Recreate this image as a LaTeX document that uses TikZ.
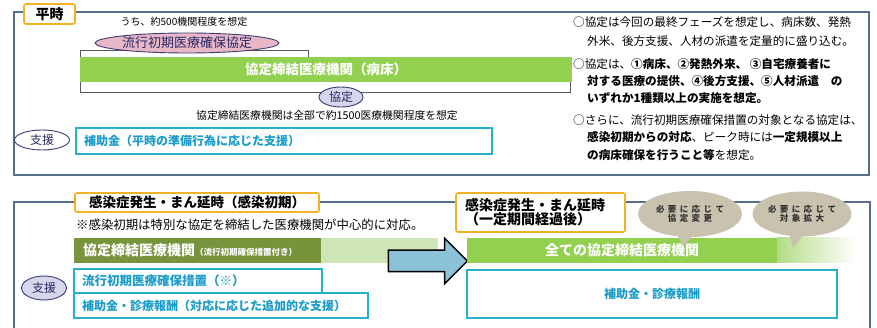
\documentclass[tikz,border=0pt]{standalone}
\usepackage{fontspec}
\setmainfont{Noto Sans CJK JP}
\newfontfamily\spacedjp[LetterSpace=40]{Noto Sans CJK JP}
\usepackage{tikz}
\usetikzlibrary{shapes,arrows,positioning}
\usetikzlibrary{shapes.arrows,shapes.callouts}

\definecolor{framegray}{RGB}{84,110,140}
\definecolor{tagorange}{RGB}{242,178,36}
\definecolor{barlime}{RGB}{146,208,80}
\definecolor{barolive}{RGB}{119,147,60}
\definecolor{barpale}{RGB}{206,230,182}
\definecolor{barfade}{RGB}{180,220,136}
\definecolor{aidcyan}{RGB}{38,176,204}
\definecolor{aidtext}{RGB}{28,156,200}
\definecolor{pactpink}{RGB}{232,184,200}
\definecolor{pactedge}{RGB}{60,60,120}
\definecolor{pactink}{RGB}{40,40,100}
\definecolor{aidlav}{RGB}{214,214,236}
\definecolor{bubbletan}{RGB}{201,194,174}
\definecolor{arrowblue}{RGB}{140,194,216}

\newcommand{\fsz}[1]{\fontsize{#1}{#1}\selectfont}

\tikzset{
  phasetag/.style={shape=rectangle,rounded corners=2pt,draw=tagorange,line width=1.6pt,fill=white,inner sep=0pt},
  aidbox/.style={shape=rectangle,draw=aidcyan,line width=1.6pt,fill=white,inner xsep=8pt,inner ysep=0pt,align=left,text=aidtext,font=\bfseries\fsz{12}},
  tagoval/.style={shape=ellipse,draw=pactedge,line width=0.9pt,inner sep=0pt,text=pactink},
  bar/.style={shape=rectangle,inner sep=0pt,minimum height=25,text=white,font=\bfseries\fsz{14}},
  talkbubble/.style={ellipse callout,fill=bubbletan,inner sep=0pt,align=center,text=black!80,font=\spacedjp\bfseries\fsz{8.5}},
  sidenote/.style={anchor=west,inner sep=0pt,font=\fsz{11.6}}
}

\begin{document}
\begin{tikzpicture}[x=1pt,y=-1pt]
\useasboundingbox (0,0) rectangle (877,328);

% Normal times frame
\draw [framegray,line width=1.2pt] (14,12) rectangle (869,175);
\node [phasetag,minimum width=51,minimum height=20,font=\bfseries\fsz{14}] at (49.5,14) (heiji) {平時};
\node [inner sep=0pt,font=\fsz{10}] at (184,22) (note500) {うち、約500機関程度を想定};
\draw [black!65,line width=0.9pt] (308,57) -- (308,50) -- (80,50) -- (80,92) -- (570,92) -- (570,82);
\node [tagoval,fill=pactpink,minimum width=150,minimum height=20,font=\fsz{13}] at (187,43) (earlypact) {流行初期医療確保協定};
\node [bar,fill=barlime,minimum width=492,font=\bfseries\fsz{13.5}] at (326,69.5) (bedbar) {協定締結医療機関（病床）};
\node [tagoval,fill=aidlav,minimum width=44,minimum height=20,font=\fsz{12}] at (341,97) (pact) {協定};
\node [inner sep=0pt,font=\fsz{10.8}] at (327,115) (note1500) {協定締結医療機関は全部で約1500医療機関程度を想定};
\node [tagoval,fill=white,minimum width=55,minimum height=20,font=\fsz{12}] at (42,140) (aidtag) {支援};
\node [aidbox,text width=400,minimum height=26] at (284,141) (subsidy) {補助金（平時の準備行為に応じた支援）};

% Notes on the right
\node [sidenote] at (573,22) (lineA) {○協定は今回の最終フェーズを想定し、病床数、発熱};
\node [sidenote] at (587,41) (lineB) {外米、後方支援、人材の派遣を定量的に盛り込む。};
\node [sidenote] at (573,64) (lineC) {○協定は、\textbf{①病床、②発熱外来、 ③自宅療養者に}};
\node [sidenote,font=\bfseries\fsz{11.6}] at (587,81) (lineD) {対する医療の提供、④後方支援、⑤人材派遣　の};
\node [sidenote,font=\bfseries\fsz{11.6}] at (587,98) (lineE) {いずれか1種類以上の実施を想定。};
\node [sidenote] at (573,120) (lineF) {○さらに、流行初期医療確保措置の対象となる協定は、};
\node [sidenote] at (587,137) (lineG) {\textbf{感染初期からの対応}、ピーク時には\textbf{一定規模以上}};
\node [sidenote] at (587,155) (lineH) {\textbf{の病床確保を行うこと等}を想定。};

% Outbreak frame
\draw [framegray,line width=1.2pt] (14,340) -- (14,202) -- (870,202) -- (870,340);
\node [phasetag,minimum width=244,minimum height=19,font=\bfseries\fsz{13.5}] at (197,202.5) (early) {感染症発生・まん延時（感染初期）};
\node [anchor=west,inner sep=0pt,font=\fsz{12.4}] at (76,225) (notecore) {※感染初期は特別な協定を締結した医療機関が中心的に対応。};
\node [bar,fill=barpale,minimum width=117] at (379.5,250.5) (palebar) {};
\node [bar,fill=barolive,minimum width=247,text width=229,inner xsep=9pt,align=left] at (197.5,250.5) (olivebar) {協定締結医療機関{\fsz{8.5}（流行初期確保措置付き）}};
\node [aidbox,text width=232,minimum height=24,font=\bfseries\fsz{12.5}] at (198,281) (measure) {流行初期医療確保措置（※）};
\node [aidbox,text width=278,minimum height=25] at (221,305.5) (fee) {補助金・診療報酬（対応に応じた追加的な支援）};
\node [tagoval,fill=aidlav,minimum width=45,minimum height=24,font=\fsz{12}] at (44,288) (aidtag2) {支援};

% Shift arrow
\node [single arrow,draw=black,line width=1.5pt,fill=arrowblue,minimum height=79,single arrow head extend=12,inner xsep=0pt,inner ysep=10pt] at (422.5,261) (shift) {};

% After a while
\node [phasetag,minimum width=169,minimum height=39,text width=151,inner xsep=9pt,align=left,font=\bfseries\fsz{14}] at (540.5,212.5) (later) {感染症発生・まん延時\\（一定期間経過後）};
\node [bar,shade,left color=barfade,right color=white,minimum width=80] at (817,250.5) (fadebar) {};
\node [bar,fill=barlime,minimum width=310] at (622,250.5) (allbar) {全ての協定締結医療機関};
\node [aidbox,text width=354,minimum height=48,align=center] at (652,294) (feeall) {補助金・診療報酬};
\node [talkbubble,minimum width=104,minimum height=46,callout absolute pointer={(683,246)}] at (690,214) (change) {必要に応じて\\協定変更};
\node [talkbubble,minimum width=99,minimum height=45,callout absolute pointer={(793,248)}] at (802,214) (expand) {必要に応じて\\対象拡大};

\end{tikzpicture}
\end{document}
